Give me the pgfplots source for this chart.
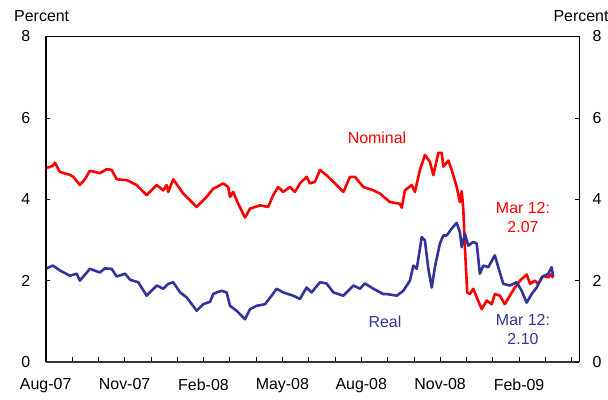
\documentclass[border=0pt]{standalone}
\usepackage{pgfplots}
\pgfplotsset{compat=1.18}
\usepackage{fontspec}
\setmainfont{Liberation Sans}
\definecolor{nomred}{RGB}{255,0,0}
\definecolor{realblue}{RGB}{51,51,153}
\pgfplotstableread{
m y
0.00 4.76
0.27 4.82
0.35 4.90
0.54 4.67
0.92 4.60
1.05 4.55
1.30 4.35
1.50 4.50
1.68 4.70
2.06 4.64
2.32 4.74
2.51 4.72
2.70 4.49
3.08 4.47
3.46 4.35
3.84 4.10
4.22 4.35
4.47 4.22
4.60 4.35
4.66 4.18
4.85 4.49
5.23 4.14
5.74 3.81
6.12 4.06
6.37 4.26
6.50 4.30
6.75 4.39
6.94 4.30
7.01 4.06
7.13 4.18
7.32 3.89
7.58 3.55
7.77 3.77
8.15 3.85
8.46 3.81
8.65 4.10
8.84 4.30
9.03 4.18
9.29 4.30
9.48 4.18
9.67 4.39
9.92 4.55
10.05 4.39
10.24 4.43
10.43 4.72
10.68 4.59
11.06 4.35
11.32 4.18
11.57 4.55
11.76 4.55
12.08 4.30
12.46 4.22
12.71 4.14
13.09 3.93
13.47 3.89
13.54 3.79
13.66 4.22
13.92 4.35
14.04 4.18
14.23 4.72
14.42 5.09
14.61 4.92
14.74 4.59
14.93 5.14
15.06 5.14
15.12 4.80
15.31 4.95
15.44 4.72
15.63 4.30
15.75 3.93
15.82 4.20
15.88 3.77
15.94 2.82
16.03 1.71
16.13 1.67
16.26 1.80
16.39 1.59
16.58 1.30
16.77 1.51
16.96 1.42
17.08 1.67
17.27 1.63
17.46 1.42
17.65 1.63
17.84 1.83
18.04 2.00
18.29 2.15
18.42 1.92
18.60 2.00
18.73 1.92
18.92 2.12
19.11 2.08
19.20 2.15
19.30 2.07
}\nominal
\pgfplotstableread{
m y
0.00 2.29
0.27 2.37
0.54 2.25
0.92 2.12
1.18 2.17
1.30 2.00
1.68 2.29
2.06 2.20
2.25 2.30
2.51 2.29
2.70 2.10
3.02 2.17
3.21 2.02
3.52 1.96
3.84 1.63
4.22 1.88
4.47 1.80
4.66 1.92
4.85 1.96
5.11 1.71
5.36 1.59
5.74 1.26
5.99 1.42
6.25 1.48
6.37 1.67
6.50 1.71
6.69 1.75
6.88 1.71
7.01 1.38
7.26 1.26
7.58 1.05
7.77 1.30
8.02 1.38
8.34 1.42
8.59 1.63
8.78 1.80
9.03 1.71
9.41 1.63
9.67 1.55
9.92 1.83
10.11 1.71
10.43 1.96
10.68 1.93
10.94 1.71
11.32 1.63
11.70 1.88
11.95 1.80
12.14 1.93
12.46 1.80
12.84 1.67
12.97 1.67
13.35 1.63
13.60 1.75
13.85 2.00
13.98 2.37
14.11 2.29
14.30 3.07
14.42 2.99
14.55 2.29
14.68 1.83
14.80 2.33
14.99 2.91
15.12 3.11
15.25 3.11
15.44 3.28
15.63 3.42
15.75 3.19
15.82 2.82
15.94 3.15
16.07 2.86
16.26 2.95
16.39 2.91
16.51 2.17
16.64 2.37
16.83 2.33
17.08 2.62
17.21 2.33
17.40 1.92
17.65 1.88
17.91 1.96
18.10 1.75
18.29 1.46
18.48 1.67
18.67 1.83
18.86 2.08
19.11 2.17
19.24 2.33
19.30 2.10
}\real
\begin{document}
\begin{tikzpicture}
\pgfplotsset{
  common/.style={
    scale only axis,
    width=533.3bp, height=325.5bp,
    xmin=0, xmax=20.28, ymin=0, ymax=8,
    ytick={0,2,4,6,8},
    tick align=inside,
    major tick length=4.5bp, minor tick length=4.5bp,
    tick style={black, line width=0.6bp},
    /pgf/number format/assume math mode=true,
    yticklabel style={font=\fontsize{16}{18}\selectfont},
    xticklabel style={font=\fontsize{16}{18}\selectfont},
  }
}
\begin{axis}[common,
  name=ax,
  axis line style={draw=none},
  xtick={0,3,6,9,12,15,18},
  xticklabels={Aug-07,Nov-07,Feb-08,May-08,Aug-08,Nov-08,Feb-09},
  minor xtick={1,2,4,5,7,8,10,11,13,14,16,17,19,20},
  xtick pos=bottom,
  ytick pos=left,
  yticklabel style={xshift=-12bp},
  xticklabel style={yshift=-13bp},
  clip=false,
]
\draw[black, line width=0.8bp] (rel axis cs:0,1) -- (rel axis cs:1,1) -- (rel axis cs:1,0);
\addplot[nomred, line width=2.6bp, line join=round] table[x=m,y=y] {\nominal};
\addplot[realblue, line width=2.6bp, line join=round] table[x=m,y=y] {\real};
\draw[black!80, line width=2bp] (rel axis cs:0,0) -- (rel axis cs:1,0);
\draw[black, line width=2.2bp] (rel axis cs:0,0) -- (rel axis cs:0,1);
\node[text=nomred, font=\fontsize{16}{18}\selectfont] at (axis cs:12.6,5.5) {Nominal};
\node[text=realblue, font=\fontsize{16}{18}\selectfont] at (axis cs:12.9,1.0) {Real};
\node[text=nomred, font=\fontsize{16}{19}\selectfont, align=center] at (axis cs:18.15,3.55) {Mar 12:\\2.07};
\node[text=realblue, font=\fontsize{16}{19}\selectfont, align=center] at (axis cs:18.15,0.8) {Mar 12:\\2.10};
\node[font=\fontsize{16}{18}\selectfont, anchor=base] at ([shift={(-4bp,15bp)}]rel axis cs:0,1) {Percent};
\node[font=\fontsize{16}{18}\selectfont, anchor=base] at ([shift={(2bp,15bp)}]rel axis cs:1,1) {Percent};
\coordinate (sw) at (rel axis cs:0,0);
\coordinate (ne) at (rel axis cs:1,1);
\end{axis}
\begin{axis}[common,
  axis line style={draw=none},
  xtick=\empty,
  ytick pos=right,
  yticklabel pos=right,
  yticklabel style={xshift=10bp},
]
\end{axis}
\pgfresetboundingbox
\path[use as bounding box] ([shift={(-45.7bp,-38bp)}]sw) rectangle ([shift={(29bp,36.5bp)}]ne);
\end{tikzpicture}
\end{document}
